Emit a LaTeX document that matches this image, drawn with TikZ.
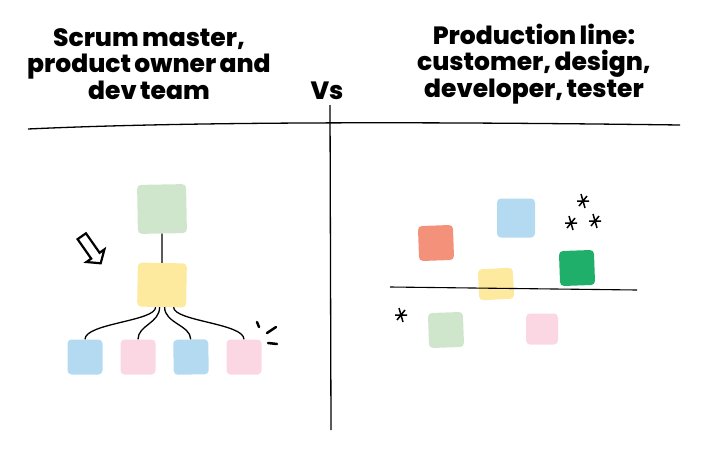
\documentclass[tikz,border=0pt]{standalone}
\usepackage{fontspec}
\setmainfont{Poppins}
\newfontfamily\headfont{Poppins}[UprightFont=* ExtraBold, WordSpace=0.7]
\usetikzlibrary{shapes.arrows}
\definecolor{note green}{HTML}{D0E6CC}
\definecolor{note yellow}{HTML}{FDEA9F}
\definecolor{note blue}{HTML}{B3DAF1}
\definecolor{note pink}{HTML}{FBD7E3}
\definecolor{note salmon}{HTML}{F4917A}
\definecolor{note dark}{HTML}{1FAF6B}
\tikzset{note/.style={minimum width=35pt, minimum height=35pt, inner sep=0pt, rounded corners=4pt},
      title/.style={font=\headfont\fontsize{25}{26.5}\selectfont, align=center},
      link/.style={draw=black, line width=1.3pt},
      sparkle/.pic={\draw[line width=1.5pt] (-6,0) -- (6,0) (-2,-7) -- (2,7) (-4,5) -- (4,-5);}}

\begin{document}
\begin{tikzpicture}[x=1pt, y=-1pt]
\useasboundingbox (0,0) rectangle (709,455);
    % headings
    \node[title] (left)  at (149,64) {Scrum master,\\product owner and\\dev team};
    \node[title] (right) at (534,64) {Production line:\\customer, design,\\developer, tester};
    \node[title] (vs)    at (327,91) {Vs};
    \draw[line width=1.3pt] (28,129) .. controls (200,121) and (450,122) .. (680,125);
    \draw[line width=1.3pt] (330,105) -- (331,430);
    % scrum team
    \node[note, fill=note green, minimum width=49pt, minimum height=49pt, rotate=1] (sm) at (162,209) {};
    \node[note, fill=note yellow, minimum height=44pt, minimum width=49pt, rotate=-1] (po) at (162,285) {};
    \node[note, fill=note blue]               (dev1) at (85,357) {};
    \node[note, fill=note pink]               (dev2) at (138,357) {};
    \node[note, fill=note blue, rotate=1]     (dev3) at (191,357) {};
    \node[note, fill=note pink]               (dev4) at (244,357) {};
    \draw[link] (sm) -- (po);
    \draw[link] ([xshift=-6pt]po.south) .. controls +(0,14) and +(0,-16) .. (dev1.north);
    \draw[link] ([xshift=-2pt]po.south) .. controls +(0,16) and +(0,-14) .. (dev2.north);
    \draw[link] ([xshift=3pt]po.south)  .. controls +(0,16) and +(0,-14) .. (dev3.north);
    \draw[link] ([xshift=12pt]po.south) .. controls +(0,14) and +(0,-16) .. (dev4.north);
    \node[single arrow, draw, line width=2.2pt, rotate=-55, minimum height=33pt, minimum width=22pt,
          single arrow head extend=3pt, single arrow tip angle=100, inner sep=1.5pt] (hint) at (90,248) {};
    \draw[line width=2.5pt, line cap=round] (257,322) -- (259,327) (267,333) -- (276,327) (268,343) -- (277,344);
    % production line
    \node[note, fill=note salmon, rotate=2]   (cust)  at (436,243) {};
    \node[note, fill=note blue, minimum width=38pt, minimum height=39pt] (des) at (516,218) {};
    \node[note, fill=note dark, rotate=2]     (devl)  at (577,268) {};
    \node[note, fill=note yellow, minimum height=31pt, rotate=3] (tst) at (496,284) {};
    \draw[line width=1.1pt] (390,287) -- (637,290);
    \node[note, fill=note green, rotate=2]    (done1) at (446,330) {};
    \node[note, fill=note pink, minimum width=32pt, minimum height=31pt] (done2) at (542,329) {};
    \pic at (583,201) {sparkle};
    \pic at (571,223) {sparkle};
    \pic at (595,221) {sparkle};
    \pic at (401,315) {sparkle};
\end{tikzpicture}
\end{document}
